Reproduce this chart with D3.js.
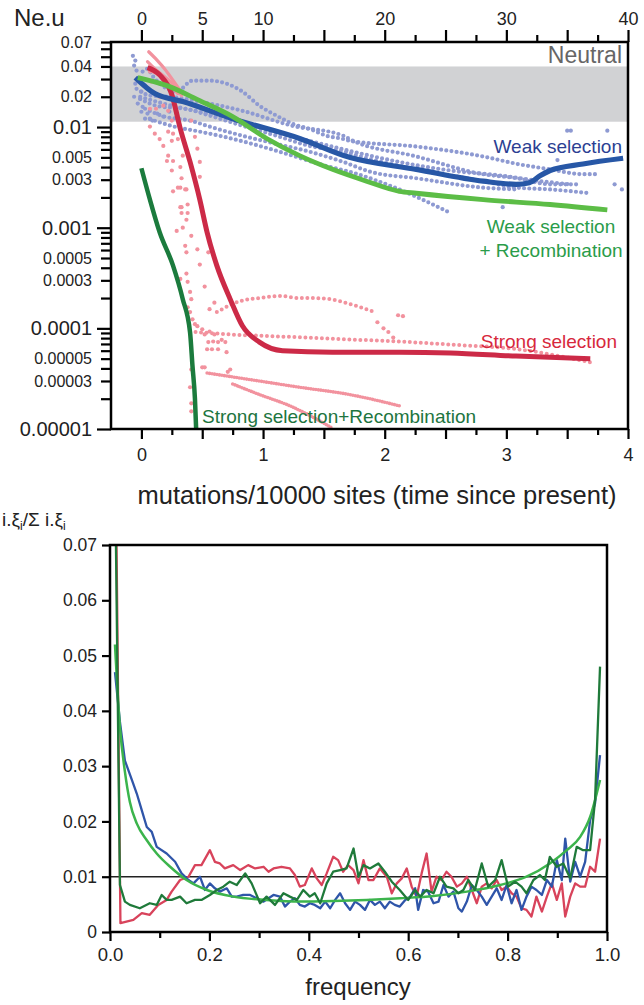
<!DOCTYPE html>
<html><head><meta charset="utf-8">
<script src="https://cdn.jsdelivr.net/npm/d3@7"></script>
<style>
body{margin:0;background:#fff}
svg{display:block}
text{font-family:"Liberation Sans",Arial,Helvetica,sans-serif}
</style>
</head><body>
<svg id="chart" width="644" height="1005"></svg>
<script>
// ---------------- TOP PANEL DATA (time in mutations/10000 sites, Ne.u) ----------------
const neutralBand = [0.0113, 0.04];
const topYTickLabels = ["0.07","0.04","0.02","0.01","0.005","0.003","0.001","0.0005","0.0003","0.0001","0.00005","0.00003","0.00001"];
const topXTickLabels = ["0","1","2","3","4"];
const topX2TickLabels = ["0","5","10","20","30","40"];

const weakSel = [[-0.05,0.031],[0.11,0.0215],[0.34,0.0179],[0.75,0.0121],[1.30,0.0077],[1.71,0.0050],[2.26,0.0038],[2.81,0.0029],[3.08,0.0027],[3.19,0.0028],[3.28,0.0033],[3.36,0.0037],[3.63,0.0043],[3.96,0.0049]];
const weakRec = [[-0.03,0.031],[0.21,0.0258],[0.48,0.0183],[0.75,0.0127],[1.03,0.0077],[1.30,0.0052],[1.57,0.0038],[1.85,0.0029],[2.12,0.0023],[2.26,0.0022],[2.81,0.0019],[3.36,0.0017],[3.83,0.0015]];
const strongSel = [[0.05,0.039],[0.15,0.033],[0.25,0.021],[0.32,0.0096],[0.40,0.0045],[0.48,0.0019],[0.54,0.0009],[0.62,0.00042],[0.73,0.000195],[0.83,0.000106],[0.97,0.000073],[1.16,0.00006],[1.57,0.000058],[2.12,0.000058],[2.54,0.000057],[3.08,0.000053],[3.69,0.00005]];
const strongRec = [[0.0,0.0039],[0.07,0.0019],[0.15,0.0009],[0.26,0.00042],[0.34,0.000195],[0.40,0.000091],[0.42,0.000042],[0.44,0.00002],[0.45,0.00001]];

// individual simulation runs, weak selection (light blue dotted)
const weakRuns = [
  [[0.01,0.0356],[0.05,0.038],[0.09,0.0324],[0.21,0.0241],[0.29,0.0225],[0.42,0.0289],[0.56,0.0289],[0.70,0.027],[0.83,0.0225],[0.97,0.0163],[1.11,0.013],[1.24,0.0108],[1.38,0.0096],[1.52,0.0082],[1.66,0.0076],[1.71,0.0073],[2.26,0.0064],[2.81,0.0051],[3.09,0.0043],[3.36,0.0038],[3.63,0.0034],[3.74,0.0034]],
  [[-0.04,0.024],[0.07,0.0206],[0.23,0.02],[0.48,0.0179],[0.83,0.0145],[1.24,0.0103],[1.66,0.0082],[1.71,0.0076],[2.26,0.0051],[2.81,0.0034],[3.09,0.0031],[3.36,0.0027],[3.60,0.0027]],
  [[-0.01,0.019],[0.15,0.016],[0.36,0.0152],[0.56,0.013],[0.83,0.0103],[1.11,0.0082],[1.38,0.0065],[1.66,0.0057],[1.88,0.0048],[2.26,0.0038],[2.81,0.0029],[3.09,0.0025],[3.36,0.0024],[3.69,0.0022]],
  [[0.03,0.0152],[0.19,0.0127],[0.40,0.0116],[0.56,0.0101],[0.83,0.0082],[1.11,0.0068],[1.38,0.0057],[1.66,0.0045],[1.88,0.0036],[2.26,0.0031],[2.81,0.0025],[3.09,0.0024]],
  [[0.07,0.012],[0.27,0.0101],[0.48,0.009],[0.64,0.0082],[0.97,0.0065],[1.24,0.0052],[1.52,0.0041],[1.71,0.0036],[2.12,0.0024],[2.54,0.0014]],
  [[-0.01,0.02],[0.19,0.017],[0.44,0.0145],[0.73,0.0121],[1.06,0.0092],[1.38,0.0073],[1.71,0.0058],[2.12,0.0045],[2.54,0.0037],[2.95,0.0033],[3.28,0.0029],[3.52,0.0027]]
];
const weakScatter = [[-0.07,0.051],[-0.05,0.0458],[-0.06,0.0408],[-0.04,0.0364],[-0.05,0.027],[-0.06,0.02],[-0.01,0.0191],[-0.03,0.0171],[0.01,0.0159],[0.05,0.0136],[0.07,0.0121],[0.00,0.0225],[0.03,0.0258],[-0.01,0.0303],[0.09,0.0116],[0.13,0.0136],[0.18,0.0127],[0.23,0.0142],[0.00,0.0142],[0.03,0.0121],[3.50,0.0092],[3.53,0.0092],[3.83,0.0092],[3.42,0.0047],[3.89,0.0027],[3.95,0.0024],[2.97,0.0016]];

// individual simulation runs, strong selection (pink)
const strongEarly = [
  [[0.06,0.056],[0.13,0.046],[0.19,0.038],[0.25,0.0303],[0.32,0.023]],
  [[0.05,0.0447],[0.11,0.038],[0.19,0.0316],[0.28,0.0252],[0.33,0.0205]],
  [[0.07,0.0364],[0.15,0.0324],[0.23,0.0264],[0.30,0.0215]]
];
const strongRuns = [
  [[0.62,0.000145],[0.81,0.000186],[0.97,0.0002],[1.14,0.00021],[1.30,0.0002],[1.41,0.0002],[1.55,0.000195],[1.69,0.000178],[1.80,0.000162],[1.90,0.000148]],
  [[0.40,0.000093],[0.73,0.000087],[1.14,0.000083],[1.55,0.000079],[2.21,0.000073],[2.54,0.000069],[3.09,0.000062],[3.69,0.000046]]
];
const strongDenseRuns = [
  [[0.54,0.000036],[0.89,0.000031],[1.30,0.000026],[1.71,0.000022],[2.12,0.000017]],
  [[0.75,0.000028],[0.97,0.000022],[1.22,0.000017],[1.57,0.0000102]]
];
const strongScatter = [[0.07,0.0356],[0.08,0.0283],[0.09,0.0225],[0.15,0.02],[0.07,0.0152],[0.12,0.0152],[0.18,0.0163],[0.22,0.0145],[0.25,0.0116],[0.07,0.0101],[0.11,0.0086],[0.15,0.0076],[0.18,0.0065],[0.22,0.009],[0.26,0.0086],[0.25,0.0073],[0.30,0.0076],[0.41,0.0116],[0.44,0.008],[0.46,0.0061],[0.48,0.0045],[0.22,0.0052],[0.26,0.0046],[0.25,0.0037],[0.32,0.004],[0.33,0.0031],[0.30,0.0025],[0.26,0.0023],[0.37,0.0024],[0.33,0.0016],[0.38,0.0017],[0.48,0.0032],[0.21,0.0046],[0.34,0.0052],[0.32,0.0025],[0.36,0.0024],[0.32,0.0016],[0.33,0.0014],[0.38,0.0014],[0.37,0.0012],[0.29,0.00093],[0.34,0.001],[0.41,0.00083],[0.36,0.00066],[0.37,0.00057],[0.46,0.00061],[0.55,0.00057],[0.48,0.00043],[0.32,0.00031],[0.37,0.00035],[0.38,0.00029],[0.52,0.00026],[0.40,0.00023],[0.41,0.000195],[0.38,0.000162],[0.40,0.000145],[0.42,0.000123],[0.56,0.000155],[0.60,0.00018],[0.44,0.00011],[0.46,0.000105],[0.50,0.000098],[0.52,0.000087],[0.56,0.000093],[0.60,0.000087],[0.55,0.000073],[0.59,0.000074],[0.63,0.000073],[0.66,0.000077],[0.58,0.000062],[0.63,0.000062],[0.69,0.000073],[0.70,0.000058],[0.50,0.000041],[0.52,0.000041],[0.73,0.000039],[0.71,0.000037],[0.41,0.000039],[0.40,0.000026],[0.41,0.000018],[0.41,0.000015],[0.54,0.000062],[1.94,0.000115],[1.99,0.0001],[2.03,0.000092],[2.07,0.000081],[2.11,0.000135],[2.15,0.000132]];

// ---------------- BOTTOM PANEL DATA (frequency, i.xi / sum i.xi) ----------------
const neutralLevel = 0.01;
const bottomYTickLabels = ["0","0.01","0.02","0.03","0.04","0.05","0.06","0.07"];
const bottomXTickLabels = ["0.0","0.2","0.4","0.6","0.8","1.0"];

const sfsStrong = [[0.012,0.08],[0.021,0.0016],[0.047,0.0022],[0.064,0.0034],[0.08,0.0031],[0.097,0.0049],[0.114,0.0058],[0.124,0.0073],[0.141,0.0094],[0.158,0.010],[0.171,0.0121],[0.184,0.0121],[0.201,0.0148],[0.211,0.0127],[0.221,0.0124],[0.231,0.0115],[0.248,0.0121],[0.262,0.0112],[0.278,0.0121],[0.292,0.0115],[0.309,0.0118],[0.319,0.0109],[0.329,0.0115],[0.345,0.0118],[0.362,0.0115],[0.372,0.0103],[0.382,0.0082],[0.392,0.0085],[0.406,0.0115],[0.416,0.0097],[0.426,0.0085],[0.436,0.0106],[0.449,0.0136],[0.459,0.0130],[0.469,0.0109],[0.479,0.0121],[0.49,0.0112],[0.50,0.0088],[0.51,0.0130],[0.52,0.0094],[0.53,0.0094],[0.543,0.0115],[0.557,0.010],[0.567,0.0070],[0.577,0.0088],[0.587,0.0097],[0.597,0.0115],[0.607,0.0082],[0.617,0.0064],[0.627,0.0106],[0.637,0.0142],[0.647,0.0073],[0.657,0.010],[0.667,0.0094],[0.677,0.0109],[0.687,0.010],[0.698,0.0082],[0.708,0.0088],[0.718,0.010],[0.728,0.0076],[0.738,0.0052],[0.748,0.0082],[0.758,0.0088],[0.768,0.0079],[0.778,0.0094],[0.788,0.0076],[0.798,0.0082],[0.808,0.0070],[0.818,0.0064],[0.828,0.0043],[0.838,0.0040],[0.848,0.0028],[0.858,0.0064],[0.869,0.0037],[0.879,0.0064],[0.889,0.0088],[0.899,0.0058],[0.909,0.0088],[0.916,0.0028],[0.926,0.0064],[0.936,0.0088],[0.946,0.0082],[0.956,0.0082],[0.966,0.0118],[0.976,0.0109],[0.986,0.0169]];
const sfsWeak = [[0.01,0.047],[0.02,0.038],[0.03,0.031],[0.044,0.0275],[0.054,0.025],[0.064,0.022],[0.074,0.019],[0.084,0.0181],[0.094,0.0154],[0.114,0.0142],[0.131,0.0127],[0.144,0.0106],[0.158,0.0094],[0.168,0.0088],[0.181,0.010],[0.191,0.0076],[0.201,0.0088],[0.211,0.0079],[0.221,0.0073],[0.235,0.0079],[0.245,0.0064],[0.255,0.0064],[0.268,0.0067],[0.282,0.0067],[0.295,0.0061],[0.309,0.0055],[0.319,0.0061],[0.329,0.0067],[0.342,0.0064],[0.352,0.0046],[0.362,0.0055],[0.372,0.0061],[0.382,0.0049],[0.392,0.0046],[0.402,0.0052],[0.412,0.0049],[0.423,0.0043],[0.433,0.0055],[0.443,0.0043],[0.453,0.0058],[0.463,0.0070],[0.473,0.0052],[0.483,0.0040],[0.493,0.0055],[0.503,0.0049],[0.513,0.0040],[0.523,0.0058],[0.533,0.0049],[0.543,0.0055],[0.553,0.0043],[0.563,0.0055],[0.573,0.0049],[0.583,0.0046],[0.594,0.0058],[0.604,0.0064],[0.614,0.0079],[0.62,0.0040],[0.63,0.0076],[0.64,0.0073],[0.651,0.0052],[0.661,0.0055],[0.671,0.0085],[0.681,0.0064],[0.691,0.0073],[0.701,0.0043],[0.708,0.0037],[0.718,0.0055],[0.728,0.0085],[0.738,0.0076],[0.748,0.0064],[0.758,0.0049],[0.768,0.0064],[0.778,0.0079],[0.788,0.0058],[0.798,0.0085],[0.808,0.0052],[0.818,0.0076],[0.828,0.0040],[0.838,0.0064],[0.848,0.0082],[0.858,0.0076],[0.869,0.0067],[0.879,0.0094],[0.889,0.0082],[0.899,0.0130],[0.909,0.0094],[0.916,0.0169],[0.926,0.0091],[0.936,0.0127],[0.946,0.010],[0.956,0.0127],[0.966,0.0202],[0.976,0.0233],[0.986,0.032]];
const sfsWeakRec = [[0.01,0.052],[0.02,0.037],[0.03,0.029],[0.04,0.0235],[0.054,0.0196],[0.074,0.0166],[0.094,0.0142],[0.121,0.0118],[0.154,0.0094],[0.195,0.0076],[0.248,0.0064],[0.315,0.0058],[0.382,0.0055],[0.449,0.0056],[0.516,0.0058],[0.584,0.0061],[0.651,0.0065],[0.718,0.0073],[0.785,0.0085],[0.838,0.010],[0.885,0.0124],[0.919,0.0148],[0.946,0.0172],[0.966,0.0208],[0.986,0.0275]];
const sfsStrongRec = [[0.01,0.085],[0.02,0.0085],[0.03,0.0055],[0.04,0.0049],[0.06,0.0043],[0.08,0.0052],[0.094,0.0049],[0.104,0.0067],[0.114,0.0058],[0.124,0.0058],[0.141,0.0064],[0.154,0.0052],[0.171,0.0058],[0.184,0.0058],[0.201,0.0067],[0.215,0.0076],[0.228,0.0082],[0.241,0.0091],[0.255,0.0085],[0.272,0.0106],[0.285,0.0088],[0.302,0.0052],[0.315,0.0064],[0.332,0.0049],[0.349,0.0070],[0.362,0.0064],[0.376,0.0058],[0.389,0.0076],[0.402,0.0064],[0.412,0.0070],[0.423,0.0052],[0.436,0.0088],[0.449,0.0109],[0.463,0.0112],[0.476,0.0115],[0.49,0.0151],[0.50,0.010],[0.51,0.0121],[0.523,0.0115],[0.54,0.0124],[0.553,0.0109],[0.567,0.0091],[0.583,0.0076],[0.60,0.0058],[0.614,0.0076],[0.624,0.0064],[0.637,0.0076],[0.651,0.0070],[0.664,0.010],[0.677,0.0082],[0.691,0.0079],[0.701,0.0070],[0.711,0.0076],[0.721,0.0094],[0.734,0.0076],[0.748,0.0124],[0.761,0.0082],[0.775,0.0094],[0.788,0.0130],[0.801,0.0082],[0.815,0.0091],[0.828,0.0082],[0.838,0.0070],[0.852,0.0094],[0.865,0.0103],[0.875,0.0094],[0.885,0.0136],[0.899,0.0118],[0.912,0.0124],[0.926,0.0097],[0.939,0.0154],[0.952,0.0148],[0.966,0.0148],[0.976,0.0239],[0.986,0.048]];

// ---------------- DRAWING ----------------
const svg = d3.select("#chart");
const C = {blue:"#2757a6", lblue:"#8e9ad2", green:"#5cbd46", dgreen:"#1b7b3d", red:"#cc2a47", pink:"#f2929e",
           bred:"#d8435b", bblue:"#2f55a9", bgreen:"#3cb44c", bdgreen:"#1f7a3a"};
const TXT = "#222";

// Top panel scales
const tx = d3.scaleLinear().domain([-0.25,4]).range([111,628]);
const tx2 = d3.scaleLinear().domain([-2.5,40]).range([111,628]);
const ty = d3.scaleLog().domain([1e-5,0.07]).range([429,42]);

const defs = svg.append("defs");
defs.append("clipPath").attr("id","clipTop")
  .append("rect").attr("x",tx.range()[0]).attr("y",ty.range()[1]).attr("width",tx.range()[1]-tx.range()[0]).attr("height",ty.range()[0]-ty.range()[1]);

const gTop = svg.append("g");
// neutral band
gTop.append("rect").attr("x",tx(-0.25)).attr("width",tx(4)-tx(-0.25))
  .attr("y",ty(neutralBand[1])).attr("height",ty(neutralBand[0])-ty(neutralBand[1])).attr("fill","#d1d2d4");
gTop.append("text").attr("x",622).attr("y",63).attr("text-anchor","end").attr("font-size",23).attr("fill","#666").text("Neutral");

const plotTop = gTop.append("g").attr("clip-path","url(#clipTop)");
const lineTs = d3.line().x(d=>tx(d[0])).y(d=>ty(d[1])).curve(d3.curveMonotoneX);

// light blue runs
plotTop.selectAll(".wr").data(weakRuns).join("path").attr("d",lineTs).attr("fill","none")
  .attr("stroke",C.lblue).attr("stroke-width",4.2).attr("stroke-linecap","round").attr("stroke-dasharray","0 5.2");
plotTop.selectAll(".ws").data(weakScatter).join("circle").attr("cx",d=>tx(d[0])).attr("cy",d=>ty(d[1])).attr("r",2.1).attr("fill",C.lblue);

// pink runs
plotTop.selectAll(".se").data(strongEarly).join("path").attr("d",lineTs).attr("fill","none")
  .attr("stroke",C.pink).attr("stroke-width",3.2).attr("stroke-linecap","round");
plotTop.selectAll(".sr").data(strongRuns).join("path").attr("d",lineTs).attr("fill","none")
  .attr("stroke",C.pink).attr("stroke-width",4).attr("stroke-linecap","round").attr("stroke-dasharray","0 5.5");
plotTop.selectAll(".sd").data(strongDenseRuns).join("path").attr("d",lineTs).attr("fill","none")
  .attr("stroke",C.pink).attr("stroke-width",3.6).attr("stroke-linecap","round").attr("stroke-dasharray","0 2.5");
plotTop.selectAll(".ss").data(strongScatter).join("circle").attr("cx",d=>tx(d[0])).attr("cy",d=>ty(d[1])).attr("r",2.1).attr("fill",C.pink);

// thick average lines
plotTop.append("path").datum(strongRec).attr("d",lineTs).attr("fill","none").attr("stroke",C.dgreen).attr("stroke-width",4.5);
plotTop.append("path").datum(strongSel).attr("d",lineTs).attr("fill","none").attr("stroke",C.red).attr("stroke-width",5);
plotTop.append("path").datum(weakSel).attr("d",lineTs).attr("fill","none").attr("stroke",C.blue).attr("stroke-width",5.2);
plotTop.append("path").datum(weakRec).attr("d",lineTs).attr("fill","none").attr("stroke",C.green).attr("stroke-width",4.8);

// labels
gTop.append("text").attr("x",622).attr("y",153).attr("text-anchor","end").attr("font-size",19).attr("fill","#2c3f93").text("Weak selection");
gTop.append("text").attr("x",551).attr("y",233).attr("text-anchor","middle").attr("font-size",19).attr("fill","#2a9c4a").text("Weak selection");
gTop.append("text").attr("x",551).attr("y",257).attr("text-anchor","middle").attr("font-size",19).attr("fill","#2a9c4a").text("+ Recombination");
gTop.append("text").attr("x",617).attr("y",348).attr("text-anchor","end").attr("font-size",19).attr("fill","#d7283c").text("Strong selection");
gTop.append("text").attr("x",202).attr("y",423).attr("text-anchor","start").attr("font-size",19).attr("fill","#1d7540").text("Strong selection+Recombination");

// box
gTop.append("rect").attr("x",111).attr("y",42).attr("width",517).attr("height",387).attr("fill","none").attr("stroke","#000").attr("stroke-width",2.5);

// left axis (log)
const decades = [1e-5,1e-4,1e-3,1e-2];
let yTicks = [];
[1e-5,1e-4,1e-3].forEach(d=>{for(let k=1;k<=9;k++) yTicks.push(k*d);});
for(let k=1;k<=7;k++) yTicks.push(k*0.01);
const yLab = new Map(topYTickLabels.map(s=>[+s,s]));
const isDec = v => decades.some(d=>Math.abs(v-d)/d<1e-6);
const ay = gTop.append("g").attr("transform","translate(111,0)")
  .call(d3.axisLeft(ty).tickValues(yTicks).tickSizeOuter(0).tickPadding(4)
    .tickFormat(v=>{for(const [k,s] of yLab){ if(Math.abs(k-v)/v<1e-6) return s;} return "";}));
ay.select(".domain").remove();
ay.selectAll(".tick line").attr("stroke-width",2.2).attr("x2",d=>isDec(d)?-14:-10);
ay.selectAll(".tick text").attr("font-size",d=>isDec(d)?20:16).attr("fill",TXT).attr("x",-19);

// bottom axis (time)
const ax = gTop.append("g").attr("transform","translate(0,429)")
  .call(d3.axisBottom(tx).tickValues(d3.range(0,4.001,0.25)).tickSizeOuter(0)
    .tickFormat(v=>Number.isInteger(v)?topXTickLabels[v]:""));
ax.select(".domain").remove();
ax.selectAll(".tick line").attr("stroke-width",2.2).attr("y2",d=>(Math.abs(d*2-Math.round(d*2))<1e-6)?10:6);
ax.selectAll(".tick text").attr("font-size",18).attr("fill",TXT).attr("y",19);

// top axis
const labs2 = new Set(topX2TickLabels.map(Number));
const ax2 = gTop.append("g").attr("transform","translate(0,42)")
  .call(d3.axisTop(tx2).tickValues(d3.range(0,40.001,2.5)).tickSizeOuter(0)
    .tickFormat(v=>labs2.has(v)?String(v):""));
ax2.select(".domain").remove();
ax2.selectAll(".tick line").attr("stroke-width",2.2).attr("y2",d=>(d%5===0)?-12:-7);
ax2.selectAll(".tick text").attr("font-size",18).attr("fill",TXT).attr("y",-17);

svg.append("text").attr("x",14).attr("y",26).attr("font-size",24).attr("fill",TXT).text("Ne.u");
svg.append("text").attr("x",377).attr("y",504).attr("text-anchor","middle").attr("font-size",25.5).attr("fill",TXT)
  .text("mutations/10000 sites (time since present)");

// ---------------- Bottom panel ----------------
const bx = d3.scaleLinear().domain([0,1]).range([110,607]);
const by = d3.scaleLinear().domain([0,0.07]).range([932,545]);
defs.append("clipPath").attr("id","clipBot")
  .append("rect").attr("x",110).attr("y",545).attr("width",497).attr("height",387);
const gB = svg.append("g");
const lineB = d3.line().x(d=>bx(d[0])).y(d=>by(d[1]));
const lineBs = d3.line().x(d=>bx(d[0])).y(d=>by(d[1])).curve(d3.curveMonotoneX);
const pB = gB.append("g").attr("clip-path","url(#clipBot)");
pB.append("line").attr("x1",bx(0)).attr("x2",bx(1)).attr("y1",by(neutralLevel)).attr("y2",by(neutralLevel)).attr("stroke","#222").attr("stroke-width",1.6);
pB.append("path").datum(sfsStrong).attr("d",lineB).attr("fill","none").attr("stroke",C.bred).attr("stroke-width",2.3).attr("stroke-linejoin","round");
pB.append("path").datum(sfsWeak).attr("d",lineB).attr("fill","none").attr("stroke",C.bblue).attr("stroke-width",2.3).attr("stroke-linejoin","round");
pB.append("path").datum(sfsWeakRec).attr("d",lineBs).attr("fill","none").attr("stroke",C.bgreen).attr("stroke-width",2.5);
pB.append("path").datum(sfsStrongRec).attr("d",lineB).attr("fill","none").attr("stroke",C.bdgreen).attr("stroke-width",2.3).attr("stroke-linejoin","round");

gB.append("rect").attr("x",110).attr("y",545).attr("width",497).attr("height",387).attr("fill","none").attr("stroke","#000").attr("stroke-width",2.5);

const byAx = gB.append("g").attr("transform","translate(110,0)")
  .call(d3.axisLeft(by).tickValues(d3.range(0,0.0701,0.01)).tickSizeOuter(0).tickSize(8).tickPadding(5)
    .tickFormat((v,i)=>bottomYTickLabels[i]));
byAx.select(".domain").remove();
byAx.selectAll(".tick line").attr("stroke-width",2.2);
byAx.selectAll(".tick text").attr("font-size",17.5).attr("fill",TXT);

const bxAx = gB.append("g").attr("transform","translate(0,932)")
  .call(d3.axisBottom(bx).tickValues(d3.range(0,1.0001,0.1)).tickSizeOuter(0)
    .tickFormat((v,i)=> i%2===0 ? bottomXTickLabels[i/2] : ""));
bxAx.select(".domain").remove();
bxAx.selectAll(".tick line").attr("stroke-width",2.2).attr("y2",(d,i)=>i%2===0?9:6);
bxAx.selectAll(".tick text").attr("font-size",18.5).attr("fill",TXT).attr("y",16);

svg.append("text").attr("x",358).attr("y",995).attr("text-anchor","middle").attr("font-size",24).attr("fill",TXT).text("frequency");
const yl = svg.append("text").attr("x",2).attr("y",526).attr("font-size",19).attr("fill",TXT);
yl.append("tspan").text("i.ξ");
yl.append("tspan").attr("font-size",12).attr("dy",4).text("i");
yl.append("tspan").attr("dy",-4).text("/Σ i.ξ");
yl.append("tspan").attr("font-size",12).attr("dy",4).text("i");
</script>
</body></html>
